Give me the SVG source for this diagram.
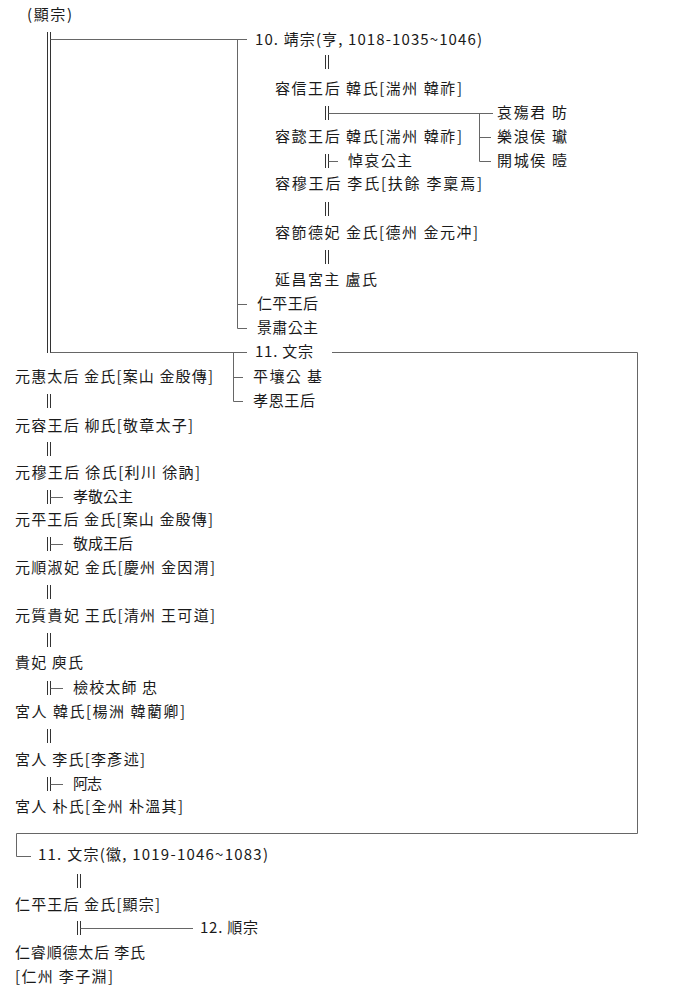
<svg xmlns="http://www.w3.org/2000/svg" xmlns:xlink="http://www.w3.org/1999/xlink" width="690" height="990" viewBox="0 0 690 990">
<style>
text{font-family:"Noto Sans CJK KR","Noto Sans CJK SC",sans-serif;font-size:15px;fill:#1a1a1a}
.ln{stroke:#666;stroke-width:1;fill:none}
.db{stroke:#333;stroke-width:1;fill:none}
</style>
<defs>
<g id="dbar"><line class="db" x1="0" y1="-7" x2="0" y2="7"/><line class="db" x1="3" y1="-7" x2="3" y2="7"/></g>
</defs>
<rect width="690" height="990" fill="#fff"/>
<g id="connectors">
<line class="db" x1="47.5" y1="32" x2="47.5" y2="353"/>
<line class="db" x1="50.5" y1="32" x2="50.5" y2="353"/>
<path class="ln" d="M50.5 39.5H247M237.5 39.5V328.5H247M237.5 304.5H247"/>
<path class="ln" d="M50.5 352.5H247M233.5 352.5V401.5H243M233.5 377.5H243"/>
<path class="ln" d="M332 352.5H637.5V833.5H16.5V856.5H31"/>
<use xlink:href="#dbar" x="325.5" y="62"/>
<use xlink:href="#dbar" x="325.5" y="113"/>
<path class="ln" d="M328.5 113.5H493M479.5 113.5V161.5H491M479.5 137.5H491"/>
<use xlink:href="#dbar" x="325.5" y="161"/>
<path class="ln" d="M328.5 161.5H338"/>
<use xlink:href="#dbar" x="325.5" y="209"/>
<use xlink:href="#dbar" x="325.5" y="257"/>
<use xlink:href="#dbar" x="47.5" y="401"/>
<use xlink:href="#dbar" x="47.5" y="449"/>
<use xlink:href="#dbar" x="47.5" y="497"/>
<path class="ln" d="M50.5 497.5H63"/>
<use xlink:href="#dbar" x="47.5" y="544"/>
<path class="ln" d="M50.5 544.5H63"/>
<use xlink:href="#dbar" x="47.5" y="592"/>
<use xlink:href="#dbar" x="47.5" y="640"/>
<use xlink:href="#dbar" x="47.5" y="688"/>
<path class="ln" d="M50.5 688.5H63"/>
<use xlink:href="#dbar" x="47.5" y="736"/>
<use xlink:href="#dbar" x="47.5" y="784"/>
<path class="ln" d="M50.5 784.5H63"/>
<use xlink:href="#dbar" x="77.5" y="881"/>
<use xlink:href="#dbar" x="77.5" y="928"/>
<path class="ln" d="M80.5 928.5H193"/>
</g>
<g id="n0"><text x="27" y="20" textLength="45" lengthAdjust="spacing">(顯宗)</text></g>
<g id="n1"><text x="255" y="45" textLength="227" lengthAdjust="spacing">10. 靖宗(亨, 1018-1035~1046)</text></g>
<g id="n2"><text x="275" y="94" textLength="187" lengthAdjust="spacing">容信王后 韓氏[湍州 韓祚]</text></g>
<g id="n3"><text x="497" y="118" textLength="70" lengthAdjust="spacing">哀殤君 昉</text></g>
<g id="n4"><text x="275" y="142" textLength="187" lengthAdjust="spacing">容懿王后 韓氏[湍州 韓祚]</text></g>
<g id="n5"><text x="497" y="142" textLength="70" lengthAdjust="spacing">樂浪侯 瓛</text></g>
<g id="n6"><text x="348" y="166" textLength="64" lengthAdjust="spacing">悼哀公主</text></g>
<g id="n7"><text x="497" y="166" textLength="70" lengthAdjust="spacing">開城侯 曀</text></g>
<g id="n8"><text x="275" y="189" textLength="207" lengthAdjust="spacing">容穆王后 李氏[扶餘 李稟焉]</text></g>
<g id="n9"><text x="275" y="238" textLength="203" lengthAdjust="spacing">容節德妃 金氏[德州 金元冲]</text></g>
<g id="n10"><text x="275" y="285" textLength="102" lengthAdjust="spacing">延昌宮主 盧氏</text></g>
<g id="n11"><text x="257" y="309" textLength="61" lengthAdjust="spacing">仁平王后</text></g>
<g id="n12"><text x="257" y="333" textLength="61" lengthAdjust="spacing">景肅公主</text></g>
<g id="n13"><text x="255" y="357" textLength="58" lengthAdjust="spacing">11. 文宗</text></g>
<g id="n14"><text x="15" y="382" textLength="198" lengthAdjust="spacing">元惠太后 金氏[案山 金殷傳]</text></g>
<g id="n15"><text x="253" y="382" textLength="69" lengthAdjust="spacing">平壤公 基</text></g>
<g id="n16"><text x="253" y="406" textLength="62" lengthAdjust="spacing">孝恩王后</text></g>
<g id="n17"><text x="15" y="431" textLength="178" lengthAdjust="spacing">元容王后 柳氏[敬章太子]</text></g>
<g id="n18"><text x="15" y="478" textLength="185" lengthAdjust="spacing">元穆王后 徐氏[利川 徐訥]</text></g>
<g id="n19"><text x="73" y="502" textLength="60" lengthAdjust="spacing">孝敬公主</text></g>
<g id="n20"><text x="15" y="525" textLength="198" lengthAdjust="spacing">元平王后 金氏[案山 金殷傳]</text></g>
<g id="n21"><text x="73" y="549" textLength="60" lengthAdjust="spacing">敬成王后</text></g>
<g id="n22"><text x="15" y="573" textLength="200" lengthAdjust="spacing">元順淑妃 金氏[慶州 金因渭]</text></g>
<g id="n23"><text x="15" y="621" textLength="200" lengthAdjust="spacing">元質貴妃 王氏[清州 王可道]</text></g>
<g id="n24"><text x="15" y="668" textLength="68" lengthAdjust="spacing">貴妃 庾氏</text></g>
<g id="n25"><text x="73" y="693" textLength="84" lengthAdjust="spacing">檢校太師 忠</text></g>
<g id="n26"><text x="15" y="717" textLength="170" lengthAdjust="spacing">宮人 韓氏[楊洲 韓藺卿]</text></g>
<g id="n27"><text x="15" y="765" textLength="130" lengthAdjust="spacing">宮人 李氏[李彥述]</text></g>
<g id="n28"><text x="73" y="789" textLength="29" lengthAdjust="spacing">阿志</text></g>
<g id="n29"><text x="15" y="812" textLength="168" lengthAdjust="spacing">宮人 朴氏[全州 朴溫其]</text></g>
<g id="n30"><text x="38" y="860" textLength="230" lengthAdjust="spacing">11. 文宗(徽, 1019-1046~1083)</text></g>
<g id="n31"><text x="15" y="910" textLength="145" lengthAdjust="spacing">仁平王后 金氏[顯宗]</text></g>
<g id="n32"><text x="200" y="933" textLength="58" lengthAdjust="spacing">12. 順宗</text></g>
<g id="n33"><text x="15" y="958" textLength="130" lengthAdjust="spacing">仁睿順德太后 李氏</text></g>
<g id="n34"><text x="15" y="982" textLength="98" lengthAdjust="spacing">[仁州 李子淵]</text></g>
</svg>
